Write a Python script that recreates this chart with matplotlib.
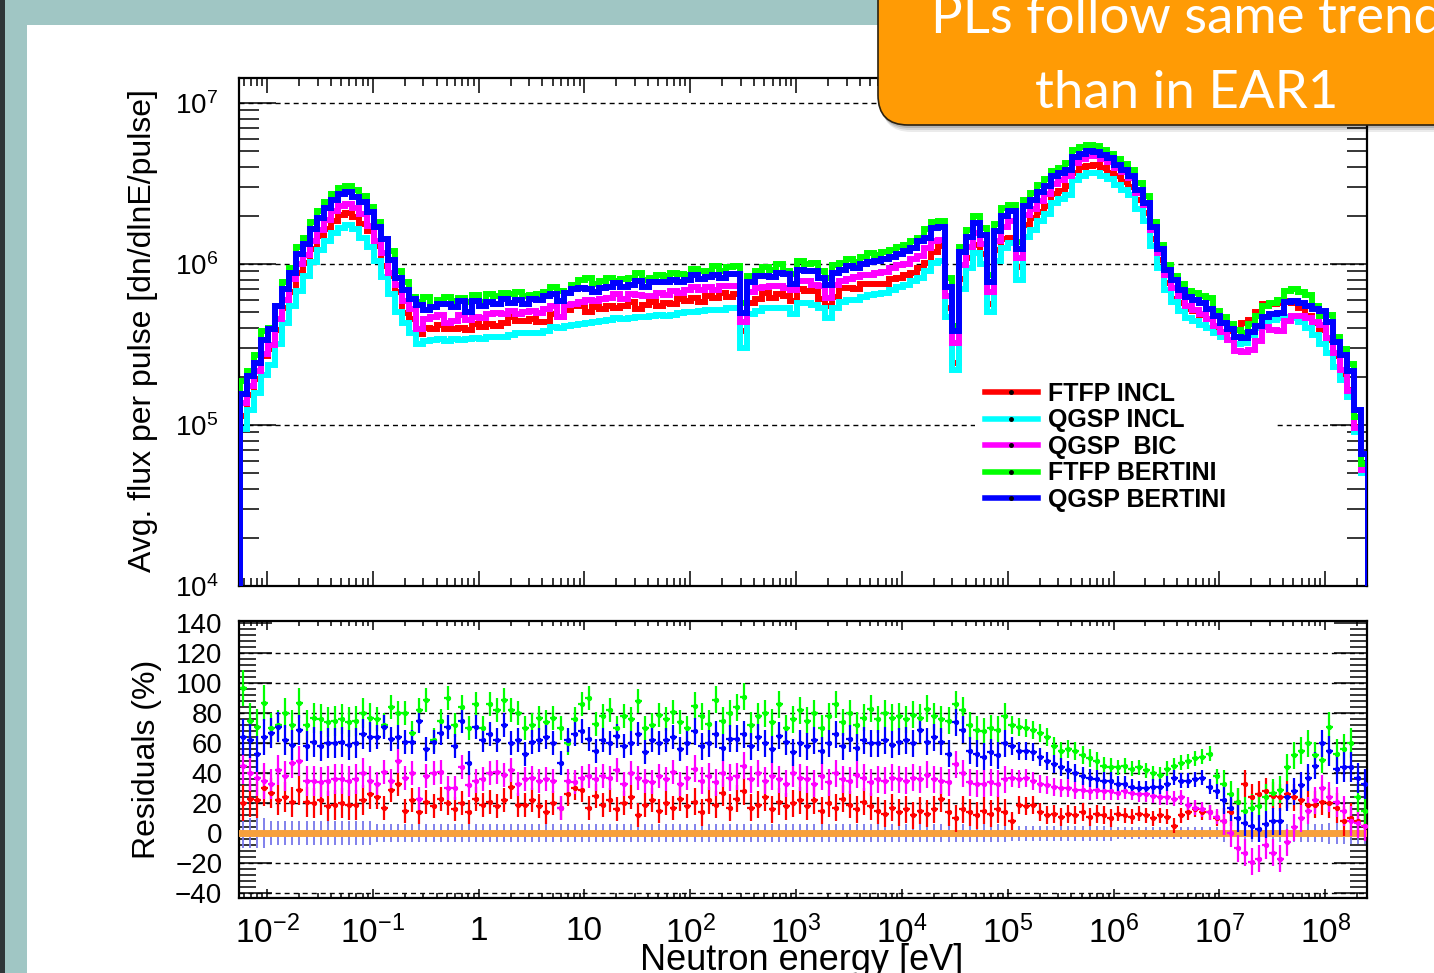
import numpy as np
import matplotlib.pyplot as plt
from matplotlib.patches import Rectangle, FancyBboxPatch
from matplotlib.lines import Line2D
from matplotlib.ticker import LogLocator, MultipleLocator, NullFormatter

plt.rcParams['font.family'] = 'Liberation Sans'
plt.rcParams['mathtext.fontset'] = 'custom'
plt.rcParams['mathtext.rm'] = 'Liberation Sans'

# 15 log bins per decade
edges = 10 ** (-2.26 + np.arange(161) / 15)

# QGSP INCL flux per bin, units of 1e5 dn/dlnE/pulse (reference of the ratios)
qgsp_incl = np.array([
    0.95, 1.24, 1.58, 2.05, 2.35, 3.2, 4.3, 5.5, 6.8, 8.4,
    10.3, 12.2, 13.9, 15.6, 16.8, 17.5, 16.4, 14.6, 12.8, 10.4,
    8.3, 6.5, 5.0, 4.3, 3.75, 3.2, 3.3, 3.35, 3.4, 3.3,
    3.4, 3.35, 3.4, 3.45, 3.4, 3.5, 3.5, 3.5, 3.6, 3.7,
    3.7, 3.75, 3.7, 3.85, 4.05, 4.0, 4.1, 4.2, 4.25, 4.3,
    4.35, 4.4, 4.5, 4.6, 4.55, 4.65, 4.7, 4.7, 4.75, 4.8,
    4.75, 4.85, 4.95, 5.0, 5.05, 5.1, 5.2, 5.15, 5.2, 5.3,
    5.3, 3.0, 4.9, 5.1, 5.3, 5.3, 5.35, 5.35, 4.9, 5.7,
    5.75, 5.6, 5.3, 4.6, 5.3, 5.8, 6.0, 6.0, 6.2, 6.4,
    6.5, 6.6, 6.9, 7.2, 7.4, 7.8, 8.2, 9.0, 10.2, 10.5,
    4.7, 2.2, 7.0, 9.5, 11.7, 10.0, 5.0, 10.5, 12.5, 13.5,
    8.0, 14.7, 16.3, 18.5, 20.5, 24.0, 25.5, 27.0, 33.0, 35.0,
    36.7, 36.5, 35.0, 33.5, 31.0, 29.0, 27.0, 22.0, 18.5, 13.0,
    9.5, 6.9, 5.8, 5.1, 4.6, 4.4, 4.2, 4.0, 3.7, 3.5,
    3.35, 3.2, 3.25, 3.6, 4.0, 4.4, 4.5, 4.6, 4.7, 4.6,
    4.35, 4.0, 3.6, 3.2, 2.8, 2.3, 1.9, 1.5, 0.9, 0.5,
]) * 1e5

# residuals (%) of each physics list with respect to QGSP INCL
res_ftfp_incl = np.array([
    20, 23, 22, 30, 27, 22, 24, 21, 29, 21,
    20, 22, 18, 19, 20, 19, 19, 22, 26, 24,
    17, 29, 33, 15, 22, 14, 21, 18, 23, 20,
    16, 20, 14, 23, 19, 21, 18, 22, 31, 19,
    19, 22, 18, 14, 20, 17, 26, 30, 29, 17,
    25, 19, 22, 16, 20, 24, 12, 19, 22, 15,
    20, 17, 23, 18, 21, 14, 22, 19, 27, 17,
    23, 28, 17, 19, 24, 16, 21, 18, 20, 22,
    18, 22, 15, 20, 17, 23, 19, 16, 21, 18,
    15, 13, 17, 14, 16, 12, 15, 13, 16, 23,
    14, 10, 16, 14, 12, 15, 13, 16, 14, 8,
    19, 18, 19, 14, 12, 13, 11, 13, 12, 14,
    11, 13, 12, 10, 13, 12, 11, 13, 12, 10,
    12, 11, 5, 12, 14, 16, 14, 14, 10, 8,
    14, 21, 33, 24, 26, 28, 25, 24, 26, 24,
    22, 19, 19, 21, 20, 17, 8, 10, 8, 5,
])
res_qgsp_bic = np.array([
    45, 40, 37, 35, 33, 42, 38, 47, 48, 35,
    35, 34, 35, 36, 36, 35, 36, 40, 35, 33,
    41, 35, 48, 37, 40, 23, 38, 40, 41, 30,
    30, 44, 32, 35, 36, 40, 41, 39, 42, 33,
    36, 37, 35, 36, 35, 17, 35, 34, 37, 38,
    36, 38, 37, 42, 33, 40, 37, 35, 34, 38,
    36, 41, 33, 37, 43, 35, 38, 34, 40, 37,
    38, 45, 36, 40, 35, 38, 36, 33, 40, 37,
    36, 33, 38, 34, 40, 36, 35, 39, 37, 34,
    36, 35, 37, 36, 35, 37, 36, 39, 36, 35,
    34, 46, 40, 34, 33, 33, 34, 33, 36, 37,
    36, 37, 35, 33, 32, 31, 30, 30, 29, 29,
    28, 29, 28, 28, 27, 28, 27, 26, 26, 25,
    24, 24, 23, 24, 19, 17, 16, 14, 11, 8,
    0, -10, -13, -19, -17, -8, -13, -17, -6, 4,
    10, 15, 22, 30, 24, 21, 15, 8, 7, 5,
])
res_ftfp_bertini = np.array([
    97, 75, 71, 87, 70, 72, 80, 72, 87, 72,
    77, 76, 74, 75, 76, 74, 75, 80, 77, 76,
    72, 84, 80, 80, 67, 82, 89, 62, 75, 90,
    72, 84, 70, 86, 70, 86, 82, 89, 82, 80,
    70, 72, 77, 74, 77, 70, 60, 76, 86, 90,
    73, 78, 82, 70, 78, 76, 88, 70, 72, 79,
    76, 81, 74, 70, 85, 78, 73, 89, 75, 80,
    84, 91, 72, 78, 80, 74, 86, 70, 76, 82,
    75, 80, 70, 78, 86, 74, 80, 72, 77, 83,
    76, 80, 77, 78, 76, 79, 77, 83, 78, 76,
    75, 86, 82, 72, 69, 68, 70, 69, 78, 72,
    71, 70, 69, 67, 64, 58, 55, 56, 55, 52,
    50, 48, 45, 44, 44, 45, 43, 44, 42, 40,
    39, 43, 45, 47, 48, 50, 51, 53, 38, 33,
    26, 21, 15, 17, 18, 24, 27, 29, 44, 52,
    55, 60, 52, 49, 71, 53, 56, 60, 24, 15,
])
res_qgsp_bertini = np.array([
    64, 62, 53, 64, 67, 71, 62, 59, 69, 58,
    61, 58, 60, 60, 61, 59, 60, 66, 64, 64,
    71, 63, 64, 61, 61, 75, 56, 61, 67, 71,
    58, 75, 47, 71, 62, 66, 62, 72, 60, 62,
    53, 61, 62, 64, 60, 47, 62, 66, 68, 63,
    55, 62, 60, 65, 58, 60, 66, 54, 62, 60,
    62, 64, 56, 60, 68, 58, 60, 66, 57, 63,
    63, 66, 58, 64, 60, 56, 65, 61, 54, 60,
    58, 62, 55, 60, 66, 58, 63, 57, 62, 60,
    60, 62, 59, 61, 62, 60, 69, 61, 64, 61,
    53, 74, 69, 55, 53, 51, 54, 52, 60, 58,
    55, 55, 54, 51, 48, 46, 44, 42, 40, 38,
    37, 36, 35, 35, 33, 33, 31, 30, 30, 31,
    31, 33, 37, 35, 35, 36, 37, 31, 28, 22,
    17, 10, 7, 5, 3, 6, 8, 8, 24, 28,
    32, 37, 45, 60, 55, 43, 44, 44, 37, 33,
])

# statistical errors (%) per energy decade, 1e-3 ... 1e8 eV
ref_err_by_decade = [10, 8, 6, 6, 6, 6, 6, 6, 5, 4, 6, 7]
res_err_by_decade = [12, 10, 8, 8, 8, 9, 9, 9, 6, 5, 9, 10]

names = ['FTFP INCL', 'QGSP INCL', 'QGSP  BIC', 'FTFP BERTINI', 'QGSP BERTINI']
colors = ['#ff0000', '#00ffff', '#ff00ff', '#00ff00', '#0000ff']
residuals = [res_ftfp_incl, None, res_qgsp_bic, res_ftfp_bertini, res_qgsp_bertini]

xtick_vals = [1e-2, 1e-1, 1, 10, 1e2, 1e3, 1e4, 1e5, 1e6, 1e7, 1e8]
xtick_labels = [r'$\mathregular{10^{-2}}$', r'$\mathregular{10^{-1}}$', '1', '10',
                r'$\mathregular{10^{2}}$', r'$\mathregular{10^{3}}$', r'$\mathregular{10^{4}}$',
                r'$\mathregular{10^{5}}$', r'$\mathregular{10^{6}}$', r'$\mathregular{10^{7}}$',
                r'$\mathregular{10^{8}}$']
ytick_vals = [1e4, 1e5, 1e6, 1e7]
ytick_labels = [r'$\mathregular{10^{4}}$', r'$\mathregular{10^{5}}$',
                r'$\mathregular{10^{6}}$', r'$\mathregular{10^{7}}$']
res_grid = [-40, -20, 20, 40, 60, 80, 100, 120]

centers = np.sqrt(edges[:-1] * edges[1:])
xerr = [centers - edges[:-1], edges[1:] - centers]
decade = np.floor(np.log10(centers)).astype(int) + 3
ref_err = np.array(ref_err_by_decade)[decade]
res_err = np.array(res_err_by_decade)[decade]

W, H = 1434, 973
fig = plt.figure(figsize=(W / 100, H / 100), dpi=100, facecolor='white')

# slide background
bg = fig.add_axes([0, 0, 1, 1], zorder=-10)
bg.set_xlim(0, W)
bg.set_ylim(H, 0)
bg.axis('off')
bg.add_patch(Rectangle((0, 0), W, 25, color='#a0c6c4', lw=0))
bg.add_patch(Rectangle((5, 0), 22, H, color='#a0c6c4', lw=0))
bg.add_patch(Rectangle((0, 0), 5, H, color='#2e3638', lw=0))

xmin, xmax = 10 ** -2.265, 10 ** 8.39
left, right = 239 / W, 1366.5 / W

# ---- flux panel
ax = fig.add_axes([left, 1 - 586 / H, right - left, (586 - 78) / H])
ax.set_xscale('log')
ax.set_yscale('log')
for name, c, res in zip(names, colors, residuals):
    flux = qgsp_incl if res is None else qgsp_incl * (1 + res / 100)
    ax.stairs(flux, edges, baseline=1e4, color=c, lw=4.3, zorder=3)
ax.set_xlim(xmin, xmax)
ax.set_ylim(1e4, 10 ** 7.155)

ax.xaxis.set_major_locator(LogLocator(base=10, numticks=100))
ax.xaxis.set_minor_locator(LogLocator(base=10, subs=np.arange(2, 10), numticks=100))
ax.xaxis.set_minor_formatter(NullFormatter())
ax.set_yticks(ytick_vals)
ax.set_yticklabels(ytick_labels)
ax.yaxis.set_minor_locator(LogLocator(base=10, subs=np.arange(2, 10), numticks=100))
ax.yaxis.set_minor_formatter(NullFormatter())
ax.tick_params(which='both', direction='in', top=True, right=True, width=1.1)
ax.tick_params(axis='x', which='major', length=10.8, labelbottom=False)
ax.tick_params(axis='x', which='minor', length=5.8)
ax.tick_params(axis='y', which='major', length=26.6, labelsize=20, pad=15)
ax.tick_params(axis='y', which='minor', length=14.4)
ax.grid(axis='y', which='major', color='k', lw=1.0, ls=(0, (3.6, 2.9)))
for s in ax.spines.values():
    s.set_linewidth(1.6)

handles = [Line2D([], [], color=c, lw=4, marker='o', ms=2.5, mfc='k', mec='k') for c in colors]
ax.legend(handles, names, loc='upper left', bbox_to_anchor=(0.6528, 0.13, 0.2682, 0.2913),
          mode='expand', borderaxespad=0, prop={'weight': 'bold', 'size': 18},
          frameon=True, fancybox=False, edgecolor='none', facecolor='white', framealpha=1,
          handlelength=2.1, handletextpad=0.4, labelspacing=0.1, borderpad=0.4)

# ---- residual panel
axr = fig.add_axes([left, 1 - 898 / H, right - left, (898 - 621) / H])
axr.set_xscale('log')
axr.errorbar(centers, np.zeros_like(centers), xerr=xerr, yerr=ref_err, fmt='none',
             ecolor='#7676ea', elinewidth=1.3, zorder=2)
axr.axhline(0, color='#f7a03c', lw=5, zorder=3)
for c, res in zip(colors, residuals):
    if res is None:
        continue
    axr.errorbar(centers, res, xerr=xerr, yerr=res_err, fmt='o', ms=2.8, color=c,
                 elinewidth=1.6, capsize=0, zorder=4)
for g in res_grid:
    axr.axhline(g, color='k', lw=1.0, ls=(0, (3.6, 2.9)), zorder=1)
axr.set_xlim(xmin, xmax)
axr.set_ylim(-43, 141.5)
axr.set_xticks(xtick_vals)
axr.set_xticklabels(xtick_labels)
axr.xaxis.set_minor_locator(LogLocator(base=10, subs=np.arange(2, 10), numticks=100))
axr.xaxis.set_minor_formatter(NullFormatter())
axr.yaxis.set_major_locator(MultipleLocator(20))
axr.yaxis.set_minor_locator(MultipleLocator(4))
axr.tick_params(which='both', direction='in', top=True, right=True, width=1.1)
axr.tick_params(axis='x', which='major', length=6.5, labelsize=24, pad=13)
axr.tick_params(axis='x', which='minor', length=3.6)
axr.tick_params(axis='y', which='major', length=24, labelsize=20, pad=12)
axr.tick_params(axis='y', which='minor', length=12)
for s in axr.spines.values():
    s.set_linewidth(1.6)

fig.text(143 / W, 1 - 331 / H, 'Avg. flux per pulse [dn/dlnE/pulse]', rotation=90,
         ha='center', va='center', fontsize=23)
fig.text(147 / W, 1 - 759 / H, 'Residuals (%)', rotation=90,
         ha='center', va='center', fontsize=23)
fig.text(802 / W, (H - 970) / H, 'Neutron energy [eV]', ha='center', va='baseline', fontsize=26)

# callout box in the top right corner
fg = fig.add_axes([0, 0, 1, 1], zorder=10)
fg.set_xlim(0, W)
fg.set_ylim(H, 0)
fg.axis('off')
for off, a in [(7, 0.08), (5, 0.10), (3, 0.14)]:
    fg.add_patch(FancyBboxPatch((878 + off / 2, -60 + off), 700, 185,
                                boxstyle='round,pad=0,rounding_size=30',
                                fc='black', ec='none', alpha=a))
fg.add_patch(FancyBboxPatch((878, -60), 700, 185, boxstyle='round,pad=0,rounding_size=30',
                            fc='#ff9b05', ec='#2b2110', lw=1.2))
fg.text(1187, 33, 'PLs follow same trend', color='white', fontsize=38, family='Lato',
        ha='center', va='baseline')
fg.text(1187, 108, 'than in EAR1', color='white', fontsize=38, family='Lato',
        ha='center', va='baseline')

fig.savefig('out.png', dpi=100)
